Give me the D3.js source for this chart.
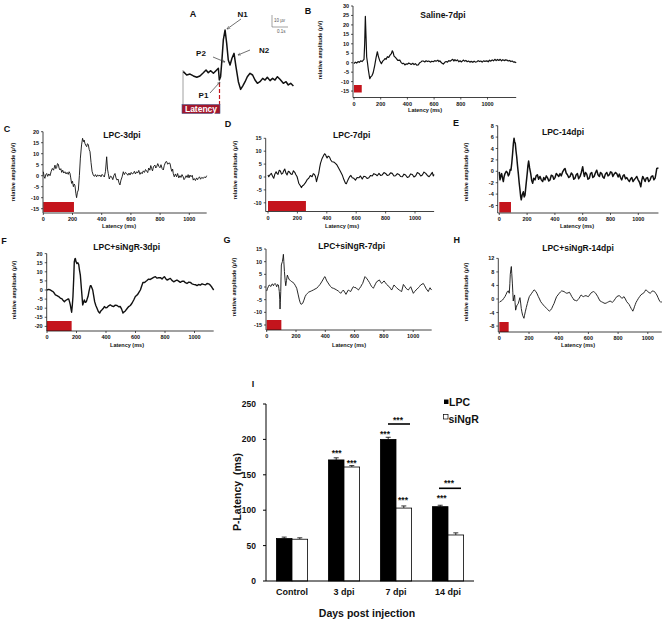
<!DOCTYPE html>
<html><head><meta charset="utf-8">
<script src="https://cdn.jsdelivr.net/npm/d3@7/dist/d3.min.js"></script>
<style>
html,body{margin:0;padding:0;background:#fff;}
svg{display:block;font-family:"Liberation Sans",Arial,sans-serif;font-weight:bold;}
</style></head>
<body>
<svg id="fig" width="672" height="624"></svg>
<script>
// ---------------- DATA ----------------
// Panel A schematic trace [ms, µV]
const traceA = [[2,2.8],[23,0],[44,0.8],[65,-0.8],[86,-1.9],[106,-0.8],[127,1.9],[144,4.2],[158,1.9],[173,3.6],[190,1.4],[206,3.6],[221,5.6],[227,-4.2],[235,-1.4],[244,13.9],[252,29.2],[263,37.5],[273,26.4],[283,12.5],[294,8.3],[306,13.9],[319,18],[331,6.9],[346,-5.6],[360,-12],[373,-9.2],[388,-5.6],[402,-1.4],[419,1.4],[435,0],[450,-4.2],[465,-6.9],[481,-5.6],[498,-2.8],[513,-4.2],[527,-1.9],[544,-4.7],[560,-2.8],[575,-4.2],[590,-1.4],[606,-3.6],[627,-6.9],[644,-5.6],[658,-8.3],[673,-6.9],[690,-9.2]];

// Panel B Saline-7dpi [ms, µV]
const traceB = [[0,-0.5],[10,0.3],[20,-0.2],[30,0.6],[40,0.2],[50,1],[60,0.6],[68,1.2],[75,1.8],[80,10],[85,24.5],[90,14],[95,3],[100,0.5],[108,-4],[118,-8.5],[125,-7.5],[135,-6.8],[143,-5.5],[155,-1.5],[165,2.5],[175,5.8],[182,3.5],[192,1.2],[205,-0.5],[215,0.8],[223,1.4],[232,2.2],[240,1.8],[250,3.2],[260,2.8],[270,4],[280,4.8],[287,6.3],[293,5.5],[300,3.5],[310,2.8],[318,2.2],[328,1.2],[343,1.4],[352,0.2],[362,-0.5],[372,-0.3],[381,-1.2],[390,-0.6],[400,-0.8],[410,-0.2],[418,-0.4],[428,-0.9],[440,-0.3],[450,-1],[460,-0.5],[470,-1.3],[481,-1.2],[490,-0.2],[500,0.3],[510,0.9],[519,0.9],[530,0.4],[540,1],[550,0.6],[560,0.9],[572,0.3],[583,0.8],[594,0.5],[605,1.1],[615,0.8],[628,1.3],[636,0.6],[644,1],[652,0.2],[660,-0.3],[669,-0.7],[680,0.2],[690,0.6],[700,0.3],[710,1.1],[720,0.8],[732,1.4],[740,1.8],[748,0.9],[756,1.6],[765,1],[775,1.5],[785,0.5],[795,1],[805,0.4],[819,1.4],[828,0.8],[838,1.2],[848,0.5],[858,0.9],[868,0.3],[878,0.7],[890,0.2],[900,0.8],[910,0.3],[920,0.5],[930,1.1],[940,0.6],[950,0.9],[960,0.3],[970,1],[980,0.7],[995,1],[1005,0.5],[1015,1.3],[1025,0.8],[1035,1.5],[1045,1],[1055,1.8],[1065,1.1],[1075,1.7],[1085,1.2],[1095,1.8],[1105,1],[1115,1.6],[1125,1.1],[1135,1.5],[1145,1.4],[1155,0.9],[1165,1.2],[1175,0.6],[1185,0.9],[1195,0.3],[1205,0.4],[1215,0]];

// Panel C LPC-3dpi
const traceC = [[0,1.8],[6,-0.5],[11,-1.2],[17,0.5],[23,1],[30,-0.3],[38,0.8],[46,0],[54,2],[62,3.3],[70,2.5],[80,4.8],[86,3.2],[91,3.6],[97,5.5],[103,5.2],[108,3.5],[114,2.6],[120,3.2],[126,1.5],[133,2.5],[140,1.2],[148,1.8],[156,0.8],[163,1.5],[171,0.6],[177,1.8],[183,1],[188,-1],[194,-3.5],[200,-2.5],[206,-5],[212,-3.8],[217,-4.5],[223,-8],[228,-10],[234,-7.5],[240,-6.5],[247,0],[254,8],[262,14],[269,17],[275,15.5],[280,16.2],[285,14.7],[291,13.8],[297,13.2],[302,14.5],[308,14.2],[314,12],[320,10.9],[327,6],[334,2],[342,0.3],[350,-0.3],[357,0.5],[365,-0.5],[372,0.4],[380,-0.2],[388,0.3],[395,-0.5],[403,0.6],[411,0],[418,-0.6],[426,2],[434,8.6],[440,3],[445,1],[452,-1.5],[460,-0.2],[468,-0.5],[476,-1.8],[484,0.2],[491,1],[498,-1],[505,-2],[512,-1.5],[518,-3.2],[525,-4.2],[532,-2],[540,-0.5],[548,1.8],[555,0.5],[563,1.5],[571,1],[579,0.2],[587,1.2],[594,0.3],[602,1.5],[609,0.8],[616,1],[624,2],[631,0.8],[639,1.8],[646,1.2],[654,2.4],[662,0.6],[670,1.5],[677,0.9],[685,2.2],[693,1.5],[700,2.8],[708,2.1],[715,1.4],[722,3.5],[730,2.5],[736,4.6],[742,3.3],[748,2.2],[755,4.2],[765,4.8],[770,3.5],[776,4],[784,5.5],[792,4.2],[799,3.6],[806,5],[814,3.2],[822,2.6],[828,4.5],[835,5.8],[840,6.4],[845,6.4],[852,5.2],[860,5.8],[868,5.6],[874,3.5],[880,2],[886,3],[890,1],[897,-0.5],[905,0.8],[913,-0.5],[920,1],[928,-1],[936,0],[943,-0.8],[950,0.5],[958,-0.5],[964,-1.8],[970,-1.2],[978,0],[985,-0.8],[992,0.5],[998,-1],[1005,0.3],[1012,-0.5],[1020,0.2],[1027,-2],[1034,-1.3],[1042,-2.2],[1050,-1],[1057,-1.8],[1062,-1.2],[1070,-0.5],[1077,-1.6],[1085,-0.8],[1096,-1.2],[1104,-0.5],[1111,-1],[1119,0]];

// Panel D LPC-7dpi
const traceD = [[0,0.8],[5,0.1],[14,0.9],[23,1.4],[31,0.3],[39,-0.5],[47,1.2],[55,2],[62,1.3],[68,1],[76,2.6],[84,2.3],[92,1.1],[100,1.4],[107,2.4],[114,3.1],[122,1.5],[130,0.8],[138,2.2],[145,2],[155,1.2],[164,1],[173,2.4],[182,1.8],[190,0.9],[198,0.1],[204,-1.2],[209,-2.4],[218,-3.2],[227,-4.1],[235,-3.4],[243,-3.1],[251,-2.5],[259,-1.8],[268,-0.9],[277,-0.5],[288,0.6],[300,0.1],[308,1.3],[316,1],[323,0.2],[330,-1.8],[337,-0.2],[345,1.4],[351,3.5],[357,5.3],[368,7.2],[380,8.5],[385,9],[391,8.7],[396,8],[402,7.4],[410,8.1],[418,7.8],[427,6.6],[436,5.9],[447,5.8],[459,5.3],[470,4.6],[482,3.3],[493,2.1],[505,0.8],[516,-1],[527,-2.4],[533,-2.6],[539,-1.8],[547,-0.8],[555,0.1],[564,0.6],[573,-0.3],[584,-0.5],[595,-1.2],[606,-0.2],[618,-0.3],[629,0.4],[641,-0.8],[652,0.3],[664,0.1],[675,-0.6],[686,-0.3],[698,0.6],[709,0.4],[720,1.3],[732,1],[743,0.5],[755,1.4],[766,0.6],[777,0.8],[789,1.7],[800,1.4],[811,0.6],[823,0.8],[834,1.6],[845,1.4],[857,0.4],[868,0.5],[880,1.3],[891,1],[902,0.2],[914,0.1],[925,1.1],[936,0.8],[948,-0.2],[959,0.1],[970,1.2],[982,1],[993,0],[1005,0.5],[1016,1.7],[1027,1.4],[1039,0.4],[1050,0.8],[1061,1.9],[1073,1.4],[1084,0.6],[1096,0.1],[1107,0.9],[1118,1.8],[1124,0.4],[1130,1]];

// Panel E LPC-14dpi
const traceE = [[0,-0.1],[5,-1.5],[11,-0.8],[17,-0.4],[23,-1.2],[29,-1.8],[35,-0.9],[41,-0.4],[50,0],[58,-0.2],[65,-0.8],[72,-0.5],[78,0.3],[84,0.2],[90,1.5],[96,3.2],[101,4.8],[106,5.8],[110,5.2],[115,4.9],[120,3.6],[125,2.6],[131,1],[137,-0.4],[143,-2],[149,-3.3],[154,-4.5],[158,-5],[165,-4.1],[173,-3.6],[179,-4.5],[185,-4.2],[193,-2.2],[202,-0.1],[206,1],[211,1.8],[218,0.6],[226,-0.4],[233,-1.6],[240,-2.1],[248,-1.2],[257,-1.5],[265,-0.8],[274,-0.6],[283,-1.4],[293,-0.9],[302,-1.5],[312,-1.8],[320,-1.1],[329,-1.5],[338,-0.8],[348,-1.2],[356,-1.7],[365,-1.5],[374,-0.7],[384,-0.8],[392,-1.4],[401,-1.1],[410,-0.4],[418,-0.6],[428,-0.9],[437,-0.4],[446,-0.8],[456,-0.1],[465,0.3],[473,0.5],[481,-0.3],[490,-0.6],[500,-1.1],[509,-0.9],[518,-0.3],[528,-0.6],[536,-1.4],[545,-1.2],[553,-0.6],[562,-0.4],[571,-1.3],[581,-0.9],[590,-0.2],[600,0.8],[606,-0.2],[612,-0.9],[620,-0.2],[629,-0.5],[638,-1.4],[648,-1.2],[656,-0.4],[665,-0.2],[673,-1.1],[682,-0.9],[691,-0.3],[701,0.2],[710,-0.6],[720,-0.9],[728,-0.2],[737,-0.4],[745,-1],[754,-1.2],[763,-0.5],[773,-0.2],[782,-0.8],[792,-0.6],[800,-0.1],[809,-0.2],[817,-0.9],[826,-0.5],[836,-0.2],[845,-0.4],[855,-1],[864,-0.5],[872,-1.1],[881,-1.5],[890,-0.8],[898,-0.6],[908,-1.3],[917,-1.1],[927,-1.5],[936,-1.8],[945,-1.3],[953,-1.1],[962,-1.8],[970,-1.5],[980,-1.2],[989,-0.9],[997,-1.4],[1006,-1.8],[1012,-2.2],[1018,-2.7],[1025,-1.6],[1032,-0.9],[1040,-1.3],[1049,-1.8],[1057,-1.2],[1066,-1.1],[1075,-1.8],[1085,-1.5],[1094,-0.9],[1104,-0.8],[1112,-1.5],[1121,-1.2],[1127,-0.4],[1133,0.5],[1145,0.6]];

// Panel F LPC+siNgR-3dpi
const traceF = [[0,0],[12,0.3],[23,0],[32,-0.5],[41,-0.9],[50,-1.8],[57,-2.7],[68,-3.1],[79,-3.6],[90,-4.4],[102,-4.9],[110,-5.8],[118,-6.4],[125,-5.8],[131,-5.5],[139,-5.1],[147,-4.9],[153,-6.5],[158,-8.2],[163,-10.5],[167,-12.2],[172,-8],[176,-3.6],[181,6],[185,15.5],[189,17],[192,17.3],[197,15.5],[203,14.5],[209,15],[215,14],[220,11],[226,8.2],[234,0],[242,-8.2],[247,-7],[253,-5.5],[260,-6.8],[267,-6.4],[272,-5],[278,-3.6],[284,-1],[289,0.9],[294,2.4],[298,2.4],[304,1.2],[310,0],[316,-3],[323,-6.4],[331,-8.5],[339,-10],[348,-11.8],[357,-12.7],[365,-11.5],[373,-10.9],[381,-10.2],[389,-9.1],[398,-9.8],[407,-9.6],[418,-8.7],[429,-8.2],[440,-8.8],[452,-9.1],[463,-8.3],[475,-8.5],[486,-9.2],[497,-9.1],[506,-10.5],[515,-12.7],[523,-12],[531,-11.5],[542,-10.3],[554,-9.1],[565,-8.5],[576,-7.3],[588,-5.5],[599,-3.6],[607,-3],[615,-2.4],[624,-1.2],[633,0],[642,2.2],[651,4.2],[659,4.1],[667,4.5],[678,5.2],[689,6],[700,5.8],[712,6.4],[723,6.9],[735,7.3],[746,6.5],[757,6.7],[769,6.8],[780,6],[788,6.8],[796,7.3],[805,6.2],[814,5.5],[825,5.9],[836,6.4],[847,5.3],[859,4.5],[870,5],[881,5.5],[892,4.9],[904,4.2],[915,4.8],[927,4.9],[938,4],[949,3.6],[961,4.3],[972,4.2],[983,3.4],[994,3.1],[1006,2.9],[1017,2.4],[1028,3],[1040,2.7],[1051,3.4],[1062,3.1],[1074,2.8],[1085,3.6],[1096,3.4],[1107,2.7],[1118,1.5],[1130,0]];

// Panel G LPC+siNgR-7dpi
const traceG = [[0,-1.6],[6,-0.5],[11,0.1],[17,0.8],[23,0.5],[29,0.2],[34,1],[40,1.2],[46,0.5],[52,1.1],[57,1.4],[63,0.9],[68,0.1],[74,1],[80,0.8],[83,-0.5],[86,-1.8],[89,-5],[91,-8.7],[93,-6],[96,-1.8],[98,4],[100,8.7],[104,9.5],[107,10],[111,11.5],[114,12.9],[117,10],[121,6.1],[126,2.5],[130,0.5],[135,2.5],[141,4.7],[148,3.6],[155,2.8],[163,2.5],[171,2.1],[179,1.8],[187,1.4],[196,0.5],[205,-0.5],[214,-2.8],[223,-5.1],[229,-6.2],[234,-6.8],[240,-6.7],[246,-6.4],[254,-5.2],[262,-3.8],[270,-3],[278,-2.5],[287,-2],[296,-1.8],[307,-1.5],[318,-1.2],[330,-0.8],[341,-0.5],[352,0.2],[364,1],[375,2],[387,3.2],[392,3.8],[398,4.1],[404,3.2],[410,2.4],[419,1.6],[428,0.8],[436,0.2],[444,-0.3],[455,-0.5],[466,-0.8],[478,-1.2],[489,-1.6],[497,-2],[505,-2.5],[514,-1.8],[523,-1.2],[532,-2],[541,-2.9],[549,-2],[557,-1.2],[565,-1.5],[573,-1.8],[582,-0.8],[591,0.1],[600,-0.2],[610,-0.3],[618,-0.8],[626,-1.2],[634,-0.5],[642,0.1],[648,0.8],[655,1.4],[663,2.8],[671,4.1],[677,3.7],[683,3.4],[692,2.6],[701,1.8],[709,0.9],[717,0.1],[723,-0.2],[728,-0.5],[734,0.2],[739,0.8],[745,1.5],[751,2.1],[760,2.4],[769,2.8],[777,2],[785,1.4],[793,1.9],[801,2.4],[810,1.7],[819,1],[828,0.5],[837,0.1],[845,-0.6],[853,-1.2],[861,-0.2],[869,0.8],[878,0.2],[887,-0.3],[896,-0.8],[905,-1.2],[913,-1.5],[921,-1.8],[927,-0.4],[933,1],[942,0.3],[951,-0.5],[959,-0.9],[967,-1.2],[975,-0.5],[983,0.1],[992,-1.2],[1001,-2.5],[1010,-1.8],[1019,-1.2],[1027,-0.8],[1035,-0.3],[1043,0.2],[1051,0.8],[1060,1.1],[1069,1.4],[1078,0.5],[1087,-0.5],[1095,-1.2],[1103,-1.8],[1109,-1],[1115,-0.3],[1120,-0.8],[1126,-1.2]];

// Panel H LPC+siNgR-14dpi
const traceH = [[0,-1],[4,-0.8],[13,-0.6],[22,-0.3],[30,0.2],[38,0.7],[46,1.4],[54,2.2],[61,2.4],[67,1.7],[71,4.5],[74,7.3],[78,8.8],[81,9.6],[84,7.5],[88,4.7],[91,2],[94,-0.6],[98,0.4],[103,1.2],[106,-1],[110,-3.3],[115,-2.5],[119,-1.8],[124,-1.6],[128,-1.3],[133,-0.5],[139,0.4],[144,-1.2],[148,-2.8],[152,-3.8],[157,-4.8],[162,-5.3],[166,-5.7],[170,-4.8],[175,-3.8],[182,-2.5],[189,-1.3],[195,-0.3],[202,0.7],[210,1.2],[218,1.7],[226,2.2],[234,2.7],[240,2.5],[247,2.2],[255,1.5],[263,0.7],[271,0],[279,-0.8],[288,-1.3],[297,-1.8],[308,-2.3],[319,-2.8],[328,-3.2],[337,-3.6],[345,-3.3],[353,-2.8],[361,-2],[369,-1.3],[377,-0.3],[386,0.7],[395,1.2],[404,1.7],[412,2.1],[420,2.4],[428,2.3],[436,2.2],[445,1.9],[454,1.7],[463,1.8],[472,2],[480,1.4],[488,0.7],[496,0.2],[503,-0.3],[512,-0.4],[521,-0.6],[529,-0.2],[537,0.2],[544,0.7],[551,1.2],[558,0.9],[566,0.7],[575,0.9],[584,1],[592,0.8],[600,0.7],[608,1.2],[616,1.7],[625,2],[634,2.2],[641,2],[649,1.7],[656,1.2],[663,0.7],[671,0],[679,-0.6],[688,-0.8],[697,-1],[705,-1.2],[712,-1.3],[720,-1.2],[728,-1],[737,-0.8],[746,-0.6],[754,-0.8],[762,-1],[768,-0.7],[775,-0.3],[783,0.2],[791,0.7],[800,0.9],[809,1],[817,0.6],[825,0.2],[832,0.4],[840,0.7],[849,0],[858,-0.8],[866,-1.2],[874,-1.6],[881,-2.2],[888,-2.8],[894,-3.2],[899,-3.6],[905,-3],[910,-2.3],[916,-1.6],[921,-1],[929,-0.4],[937,0.2],[945,0.7],[953,1.2],[962,1.5],[971,1.7],[979,2.2],[986,2.7],[993,2.5],[1000,2.2],[1008,1.9],[1016,1.7],[1024,2],[1031,2.4],[1038,2.3],[1045,2.2],[1053,1.7],[1061,1.2],[1068,0.5],[1076,-0.3],[1082,-0.7],[1088,-1],[1094,-0.8]];

// Latency markers (ms) shown as red bars in B–H
const latencyB = [0, 58];
const latencyC = [0, 210];
const latencyD = [0, 258];
const latencyE = [0, 84];
const latencyF = [0, 167];
const latencyG = [0, 100];
const latencyH = [0, 63];

// y tick values for each trace panel
const yTicksB = [30, 25, 20, 15, 10, 5, 0, -5, -10, -15];
const yTicksC = [20, 15, 10, 5, 0, -5, -10, -15];
const yTicksD = [15, 10, 5, 0, -5, -10];
const yTicksE = [8, 6, 4, 2, 0, -2, -4, -6];
const yTicksF = [20, 15, 10, 5, 0, -5, -10, -15, -20];
const yTicksG = [15, 10, 5, 0, -5, -10, -15];
const yTicksH = [12, 8, 4, 0, -4, -8];
const xTicksMs = [0, 200, 400, 600, 800, 1000];

// Panel I bar chart
const groups = ["Control", "3 dpi", "7 dpi", "14 dpi"];
const seriesNames = ["LPC", "siNgR"];
const lpcLatency = [60, 171, 200, 105];
const sinLatency = [59, 161, 103, 65];
const lpcErr = [2, 3, 3, 2];
const sinErr = [2, 2, 3, 3];
const barTicks = [0, 50, 100, 150, 200, 250];

// ---------------- DRAWING ----------------
const svg = d3.select("#fig");
const FONT = '"Liberation Sans", Arial, sans-serif';
const INK = "#111";
const RED = "#c4141c";

// ---- Panel A ----
(function(){
  const g = svg.append("g");
  const x = d3.scaleLinear().domain([0, 100]).range([183, 199]);
  const y = d3.scaleLinear().domain([0, 10]).range([75, 63]);
  g.append("line").attr("x1",183).attr("x2",183).attr("y1",70).attr("y2",105).attr("stroke","#888").attr("stroke-width",0.8);
  g.append("path").datum(traceA).attr("fill","none").attr("stroke",INK).attr("stroke-width",1.5)
    .attr("stroke-linejoin","round").attr("d", d3.line().x(d=>x(d[0])).y(d=>y(d[1])));
  g.append("line").attr("x1",219.5).attr("x2",219.5).attr("y1",83).attr("y2",105)
    .attr("stroke",RED).attr("stroke-width",1.2).attr("stroke-dasharray","4,2");
  g.append("rect").attr("x",182).attr("y",104.5).attr("width",38).attr("height",9).attr("fill","#a3172c").attr("stroke","#4b5a8a").attr("stroke-width",0.6);
  g.append("text").attr("x",201).attr("y",112).attr("text-anchor","middle").attr("fill","#fff")
    .style("font-size","8.5px").text("Latency");
  // scale bar
  g.append("path").attr("d","M272,15V27H288").attr("fill","none").attr("stroke","#666").attr("stroke-width",0.6);
  g.append("text").attr("x",274).attr("y",22).style("font-size","4.5px").style("font-weight","normal").attr("fill","#555").text("10 µv");
  g.append("text").attr("x",277).attr("y",33).style("font-size","4.5px").style("font-weight","normal").attr("fill","#555").text("0.1s");
  // annotations
  const defs = svg.append("defs");
  defs.append("marker").attr("id","ah").attr("viewBox","0 0 10 10").attr("refX",9).attr("refY",5)
    .attr("markerWidth",5).attr("markerHeight",5).attr("orient","auto")
    .append("path").attr("d","M0,1L10,5L0,9").attr("fill","none").attr("stroke","#333").attr("stroke-width",1.2);
  const arrows = [[241,19,227,29],[213,57,225,62],[250,50,238,55],[210,93,220,82]];
  arrows.forEach(a=>g.append("line").attr("x1",a[0]).attr("y1",a[1]).attr("x2",a[2]).attr("y2",a[3])
    .attr("stroke","#333").attr("stroke-width",0.7).attr("marker-end","url(#ah)"));
  const labs = [["N1",242.5,17],["P2",201,56],["N2",264,53],["P1",203.5,98]];
  labs.forEach(l=>g.append("text").attr("x",l[1]).attr("y",l[2]).attr("text-anchor","middle").attr("fill",INK).style("font-size","8px").text(l[0]));
  g.append("text").attr("x",193).attr("y",16.5).attr("text-anchor","middle").attr("fill",INK).style("font-size","9px").text("A");
})();

// ---- Trace panels ----
const panels = [
  {id:"B", title:"Saline-7dpi", data:traceB, lat:latencyB, yt:yTicksB,
   xr:[354,487.5], endMs:1215, yd:[0,30], yr:[62.7,6], axY:97.5, yAx:353, rect:[85,92.5],
   letter:[308,13.5], titlePos:[443,18], ylab:[322,50], xlab:[425,112], sw:1.2},
  {id:"C", title:"LPC-3dpi", data:traceC, lat:latencyC, yt:yTicksC,
   xr:[43.3,189.3], endMs:1119, yd:[0,20], yr:[175.7,131.7], axY:213, yAx:43, rect:[202,212],
   letter:[7,131.5], titlePos:[122,138], ylab:[15,172], xlab:[119,228], sw:0.9},
  {id:"D", title:"LPC-7dpi", data:traceD, lat:latencyD, yt:yTicksD,
   xr:[268,415], endMs:1130, yd:[0,15], yr:[177,138.3], axY:211.5, yAx:265.7, rect:[201,211],
   letter:[228,126.5], titlePos:[351.7,137.5], ylab:[237,170], xlab:[342,228], sw:1.1},
  {id:"E", title:"LPC-14dpi", data:traceE, lat:latencyE, yt:yTicksE,
   xr:[499.3,638.3], endMs:1145, yd:[0,8], yr:[171.3,125.7], axY:213, yAx:497.7, rect:[202,212.5],
   letter:[456,125.5], titlePos:[563,135], ylab:[468,172], xlab:[577,228], sw:1.5},
  {id:"F", title:"LPC+siNgR-3dpi", data:traceF, lat:latencyF, yt:yTicksF,
   xr:[47,194.5], endMs:1130, yd:[0,20], yr:[290,253.6], axY:331, yAx:46.7, rect:[321,331],
   letter:[4,243.5], titlePos:[126.7,250], ylab:[16,290], xlab:[127,347], sw:1.4},
  {id:"G", title:"LPC+siNgR-7dpi", data:traceG, lat:latencyG, yt:yTicksG,
   xr:[266.7,413.2], endMs:1126, yd:[0,15], yr:[287,249], axY:330, yAx:266, rect:[320,330],
   letter:[227,242.5], titlePos:[351.7,249], ylab:[236,287], xlab:[349,347], sw:0.9},
  {id:"H", title:"LPC+siNgR-14dpi", data:traceH, lat:latencyH, yt:yTicksH,
   xr:[499.3,647.8], endMs:1094, yd:[0,12], yr:[299,258.4], axY:332, yAx:498.3, rect:[322,332],
   letter:[456.7,242.5], titlePos:[578,251], ylab:[468,292], xlab:[578,347], sw:0.9}
];

panels.forEach(p=>{
  const g = svg.append("g");
  const x = d3.scaleLinear().domain([0,1000]).range(p.xr);
  const y = d3.scaleLinear().domain(p.yd).range(p.yr);
  const topTick = d3.max(p.yt);
  // red latency bar
  g.append("rect").attr("x", x(p.lat[0])).attr("y", p.rect[0])
    .attr("width", x(p.lat[1]) - x(p.lat[0])).attr("height", p.rect[1]-p.rect[0]).attr("fill", RED);
  // y axis
  g.append("line").attr("x1",p.yAx).attr("x2",p.yAx).attr("y1",y(topTick)).attr("y2",p.axY).attr("stroke",INK).attr("stroke-width",0.8);
  p.yt.forEach(t=>{
    g.append("line").attr("x1",p.yAx-2).attr("x2",p.yAx).attr("y1",y(t)).attr("y2",y(t)).attr("stroke",INK).attr("stroke-width",0.7);
    g.append("text").attr("x",p.yAx-4).attr("y",y(t)+2).attr("text-anchor","end").attr("fill",INK)
      .style("font-size","5.5px").text(t);
  });
  // x axis
  g.append("line").attr("x1",p.yAx).attr("x2",x(p.endMs)).attr("y1",p.axY).attr("y2",p.axY).attr("stroke",INK).attr("stroke-width",0.8);
  xTicksMs.forEach(t=>{
    g.append("line").attr("x1",x(t)).attr("x2",x(t)).attr("y1",p.axY).attr("y2",p.axY+2).attr("stroke",INK).attr("stroke-width",0.7);
    g.append("text").attr("x",x(t)).attr("y",p.axY+8).attr("text-anchor","middle").attr("fill",INK)
      .style("font-size","5.5px").text(t);
  });
  g.append("text").attr("x",p.xlab[0]).attr("y",p.xlab[1]).attr("text-anchor","middle").attr("fill",INK)
    .style("font-size","5.5px").text("Latency (ms)");
  g.append("text").attr("transform",`translate(${p.ylab[0]},${p.ylab[1]}) rotate(-90)`).attr("text-anchor","middle")
    .attr("fill",INK).style("font-size","5.5px").text("relative amplitude (µV)");
  // trace
  g.append("path").datum(p.data).attr("fill","none").attr("stroke",INK).attr("stroke-width",p.sw)
    .attr("stroke-linejoin","round").attr("d", d3.line().x(d=>x(d[0])).y(d=>y(d[1])));
  // title and letter
  g.append("text").attr("x",p.titlePos[0]).attr("y",p.titlePos[1]).attr("text-anchor","middle").attr("fill",INK)
    .style("font-size","8.5px").text(p.title);
  g.append("text").attr("x",p.letter[0]).attr("y",p.letter[1]).attr("text-anchor","middle").attr("fill",INK)
    .style("font-size","9px").text(p.id);
});

// ---- Panel I ----
(function(){
  const g = svg.append("g");
  const x0 = d3.scaleBand().domain(groups).range([266,474]).paddingInner(0.4).paddingOuter(0.2);
  const x1 = d3.scaleBand().domain(seriesNames).range([0, x0.bandwidth()]);
  const y = d3.scaleLinear().domain([0,250]).range([581,404]);
  const rows = groups.map((gname,i)=>({g:gname, vals:[
    {s:"LPC", v:lpcLatency[i], e:lpcErr[i]}, {s:"siNgR", v:sinLatency[i], e:sinErr[i]}]}));
  rows.forEach(r=>{
    r.vals.forEach(d=>{
      const bx = x0(r.g) + x1(d.s);
      const cx = bx + x1.bandwidth()/2;
      g.append("line").attr("x1",cx).attr("x2",cx).attr("y1",y(d.v)).attr("y2",y(d.v+d.e)).attr("stroke","#000").attr("stroke-width",0.8);
      g.append("line").attr("x1",cx-2.5).attr("x2",cx+2.5).attr("y1",y(d.v+d.e)).attr("y2",y(d.v+d.e)).attr("stroke","#000").attr("stroke-width",0.8);
      g.append("rect").attr("x",bx).attr("y",y(d.v)).attr("width",x1.bandwidth()).attr("height",y(0)-y(d.v))
        .attr("fill", d.s==="LPC" ? "#000" : "#fff").attr("stroke","#000").attr("stroke-width",0.8);
    });
  });
  // axes
  g.append("line").attr("x1",266).attr("x2",266).attr("y1",y(250)).attr("y2",y(0)).attr("stroke","#000").attr("stroke-width",1);
  g.append("line").attr("x1",266).attr("x2",474).attr("y1",y(0)).attr("y2",y(0)).attr("stroke","#000").attr("stroke-width",1);
  barTicks.forEach(t=>{
    g.append("line").attr("x1",263).attr("x2",266).attr("y1",y(t)).attr("y2",y(t)).attr("stroke","#000").attr("stroke-width",1);
    g.append("text").attr("x",256).attr("y",y(t)+3).attr("text-anchor","end").attr("fill",INK).style("font-size","8.5px").text(t);
  });
  groups.forEach(gn=>{
    g.append("text").attr("x",x0(gn)+x0.bandwidth()/2).attr("y",595).attr("text-anchor","middle").attr("fill",INK)
      .style("font-size","9px").text(gn);
  });
  g.append("text").attr("x",367).attr("y",617).attr("text-anchor","middle").attr("fill",INK).style("font-size","10.5px").text("Days post injection");
  g.append("text").attr("transform","translate(241,492) rotate(-90)").attr("text-anchor","middle").attr("fill",INK)
    .style("font-size","10.5px").attr("xml:space","preserve").text("P-Latency  (ms)");
  g.append("text").attr("x",253).attr("y",387).attr("text-anchor","middle").attr("fill",INK).style("font-size","9px").text("I");
  // legend
  g.append("rect").attr("x",444).attr("y",399.5).attr("width",4.5).attr("height",4.5).attr("fill","#000");
  g.append("text").attr("x",449).attr("y",405.5).attr("fill",INK).style("font-size","10.5px").text(seriesNames[0]);
  g.append("rect").attr("x",443.5).attr("y",414.5).attr("width",4.5).attr("height",4.5).attr("fill","#fff").attr("stroke","#000").attr("stroke-width",0.7);
  g.append("text").attr("x",448.5).attr("y",423).attr("fill",INK).style("font-size","10.5px").text(seriesNames[1]);
  // significance
  const stars = [[336.7,451],[351.7,461],[385,432.5],[398,418.5],[403,498.5],[441.7,496.5],[449,481.5]];
  stars.forEach(s=>g.append("text").attr("x",s[0]).attr("y",s[1]+4.8).attr("text-anchor","middle").attr("fill",INK)
    .style("font-size","8.5px").text("***"));
  g.append("line").attr("x1",388).attr("x2",410).attr("y1",424).attr("y2",424).attr("stroke","#000").attr("stroke-width",1.6);
  g.append("line").attr("x1",439).attr("x2",461).attr("y1",488.3).attr("y2",488.3).attr("stroke","#000").attr("stroke-width",1.6);
})();
</script>
</body></html>
